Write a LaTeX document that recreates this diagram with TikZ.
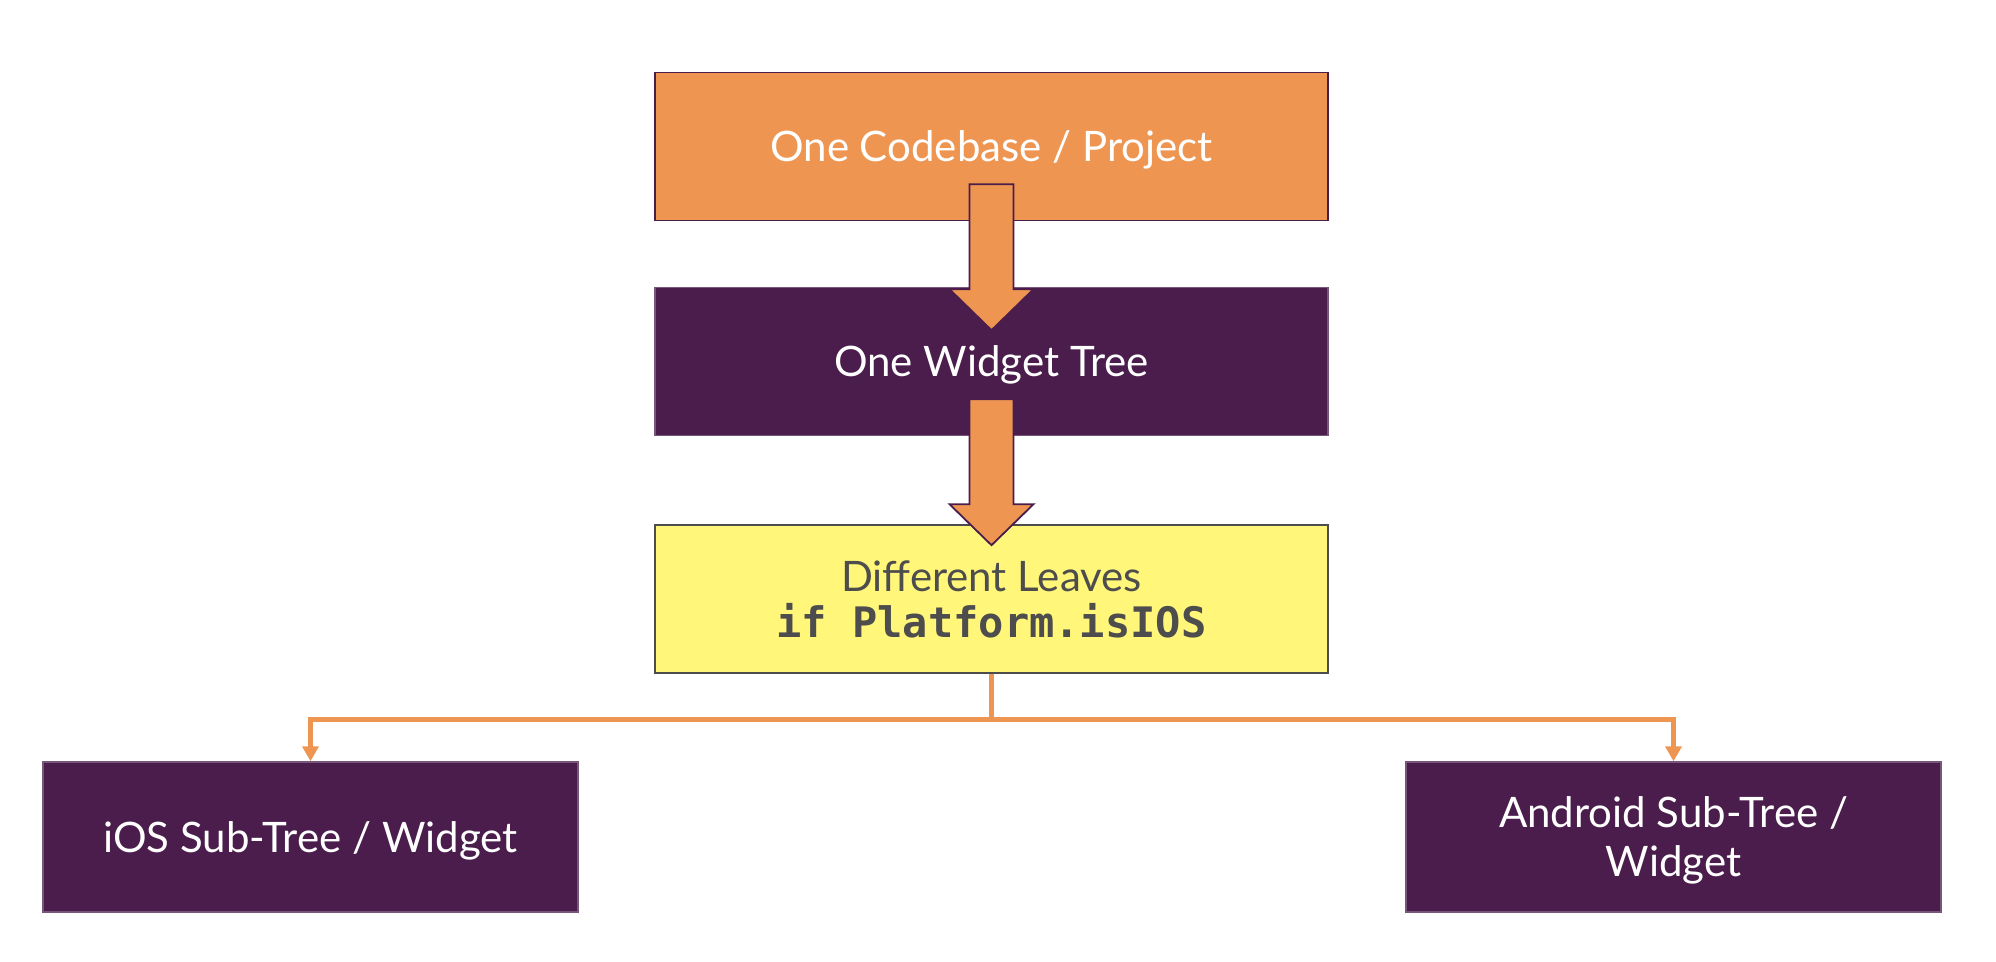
\documentclass[tikz,border=0pt]{standalone}
\usepackage{fontspec}
\setmainfont{Lato}
\setmonofont{DejaVu Sans Mono}
\usetikzlibrary{positioning, arrows.meta}

\definecolor{codeorange}{HTML}{EE9651}
\definecolor{treepurple}{HTML}{4A1D4C}
\definecolor{leafyellow}{HTML}{FFF67A}
\definecolor{leafgray}{HTML}{4D4D4D}

\tikzset{
  pics/downarrow/.style={code={
    \draw[treepurple, fill=codeorange, line width=0.9pt, line join=miter]
      (-11pt,0) -- (-11pt,-52.5pt) -- (-21pt,-52.5pt) -- (0,-73pt)
      -- (21pt,-52.5pt) -- (11pt,-52.5pt) -- (11pt,0) -- cycle;
  }}
}

\begin{document}
\begin{tikzpicture}[x=0.5pt, y=-0.5pt, node distance = 107.5pt and 340.5pt, on grid,
box/.style={rectangle, draw, line width=0.7pt, minimum width=336.5pt, minimum height=74pt, align=center, text depth=0pt, font=\fontsize{21}{24.5}\selectfont},
orangebox/.style={box, fill=codeorange, draw=treepurple, text=white},
purplebox/.style={box, fill=treepurple, draw=treepurple!75!white, text=white},
yellowbox/.style={box, fill=leafyellow, draw=leafgray, text=leafgray, font=\fontsize{21}{23}\selectfont},
leafbox/.style={purplebox, minimum width=267.5pt, minimum height=75pt},
link/.style={draw=codeorange, line width=2.4pt, -{Triangle[width=8pt, length=7.5pt]}}]
\useasboundingbox (0,0) rectangle (1996,962);

\node[orangebox] (codebase) at (991.5,146.5) {One Codebase / Project};
\node[purplebox] (widget) [below = of codebase] {One Widget Tree};
\node[yellowbox] (leaves) [below = 118.75pt of widget] {Different Leaves\\{\fontsize{21}{23}\selectfont\ttfamily\bfseries if Platform.isIOS}};
\node[leafbox] (ios) [below left = 119pt and 340.5pt of leaves] {iOS Sub-Tree / Widget};
\node[leafbox] (android) [below right = 119pt and 341pt of leaves] {Android Sub-Tree /\\Widget};

% block arrows between the stacked boxes
\pic at ([yshift=18.5pt]codebase.south) {downarrow};
\pic at ([yshift=18.5pt]widget.south) {downarrow};

\draw[link] (leaves.south) -- ++(0,-23pt) -| (ios.north);
\draw[link] (leaves.south) -- ++(0,-23pt) -| (android.north);
\end{tikzpicture}
\end{document}
